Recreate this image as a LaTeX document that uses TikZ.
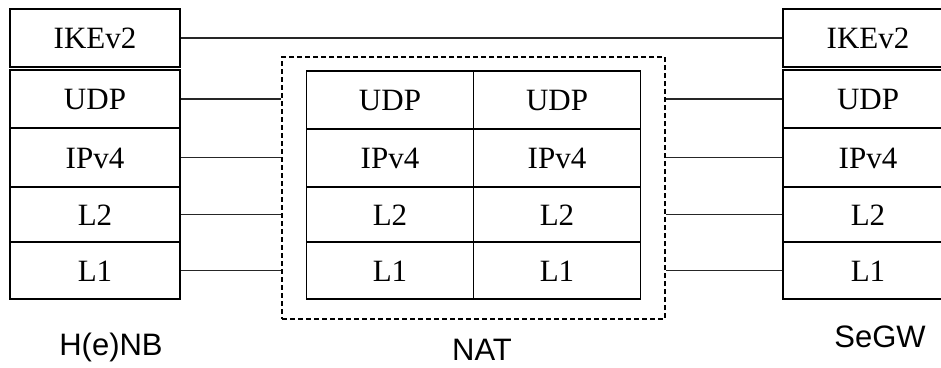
\documentclass[tikz,border=0pt]{standalone}
\usepackage{fontspec}
\setmainfont{Liberation Serif}
\newfontfamily\labelfont{Liberation Sans}
\begin{document}
\begin{tikzpicture}[x=1pt,y=-1pt,
  layer/.style={draw,line width=1.6pt,inner sep=0pt,text height=21pt,text depth=0pt,
    font=\fontsize{31}{31}\selectfont},
  side/.style={layer,minimum width=170pt},
  mid/.style={layer,minimum width=167pt},
  conn/.style={line width=1.3pt,draw=black!85},
  natbox/.style={draw,dash pattern=on 5pt off 3pt,line width=1.1pt,inner sep=0pt},
  lbl/.style={font=\labelfont\fontsize{31}{31}\selectfont,inner sep=0pt}]
\useasboundingbox (0,0) rectangle (941,367);
% left stack
\node[side,minimum height=58pt] (lIKE) at (95,38) {IKEv2};
\node[side,minimum height=58pt] (lUDP) at (95,99) {UDP};
\node[side,minimum height=59pt] (lIP) at (95,157.5) {IPv4};
\node[side,minimum height=55pt] (lL2) at (95,214.5) {L2};
\node[side,minimum height=57pt] (lL1) at (95,270.5) {L1};
% right stack
\node[side,minimum height=58pt] (rIKE) at (868,38) {IKEv2};
\node[side,minimum height=58pt] (rUDP) at (868,99) {UDP};
\node[side,minimum height=59pt] (rIP) at (868,157.5) {IPv4};
\node[side,minimum height=55pt] (rL2) at (868,214.5) {L2};
\node[side,minimum height=57pt] (rL1) at (868,270.5) {L1};
% NAT
\node[natbox,minimum width=383pt,minimum height=262pt] (nat) at (473.5,188) {};
\node[mid,minimum height=58pt] (aUDP) at (390,100) {UDP};
\node[mid,minimum height=58pt] (aIP) at (390,158) {IPv4};
\node[mid,minimum height=55pt] (aL2) at (390,214.5) {L2};
\node[mid,minimum height=57pt] (aL1) at (390,270.5) {L1};
\node[mid,minimum height=58pt] (bUDP) at (557,100) {UDP};
\node[mid,minimum height=58pt] (bIP) at (557,158) {IPv4};
\node[mid,minimum height=55pt] (bL2) at (557,214.5) {L2};
\node[mid,minimum height=57pt] (bL1) at (557,270.5) {L1};
% connectors
\draw[conn] (lIKE.east) -- (rIKE.west);
\foreach \n in {UDP,IP,L2,L1}{
  \draw[conn] (l\n.east) -- (l\n.east -| nat.west);
  \draw[conn] (r\n.west) -- (r\n.west -| nat.east);
}
% labels
\node[lbl] (hnb) at (111,347) {H(e)NB};
\node[lbl] (natl) at (482,350) {NAT};
\node[lbl] (segw) at (880,337) {SeGW};
\end{tikzpicture}
\end{document}
